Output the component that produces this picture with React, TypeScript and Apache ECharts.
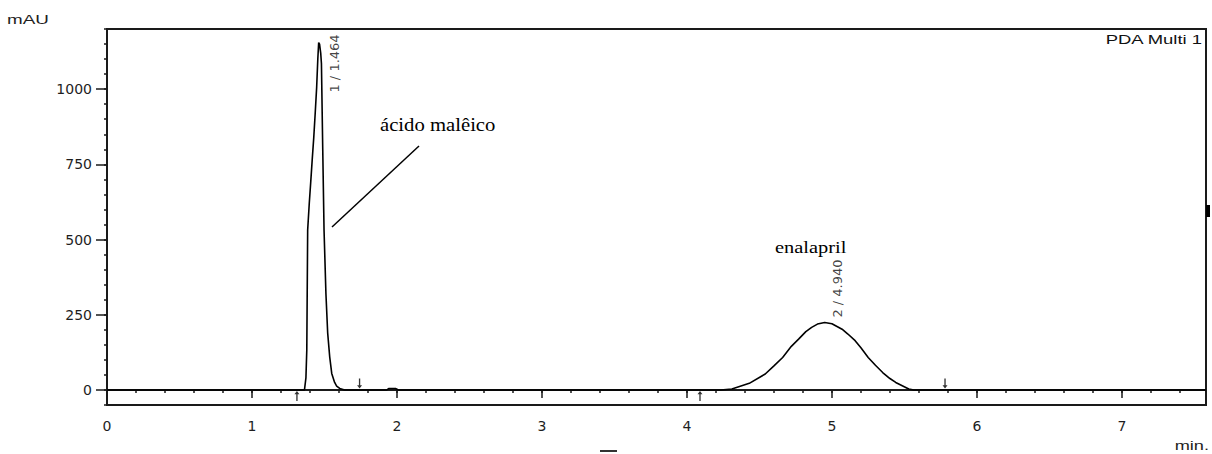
import React, { useEffect, useRef } from "react";
import * as echarts from "echarts";

// Chromatogram trace (time in min, absorbance in mAU)
const chromTime = [
  0, 1.3, 1.362, 1.372, 1.378, 1.384, 1.395, 1.405, 1.416, 1.426, 1.436, 1.446, 1.454, 1.46, 1.466,
  1.474, 1.479, 1.488, 1.497, 1.51, 1.522, 1.536, 1.55, 1.57, 1.584, 1.605, 1.639,
  1.93, 1.945, 1.99, 2.01,
  4.2, 4.233, 4.31, 4.43, 4.54, 4.6, 4.66, 4.72, 4.77, 4.82, 4.86, 4.9, 4.95, 5.0, 5.07, 5.11, 5.16,
  5.2, 5.25, 5.3, 5.35, 5.4, 5.44, 5.53, 5.565, 7.58,
];
const chromSignal = [
  0, 0, 0, 40, 133, 531, 620, 690, 770, 839, 920, 1006, 1100, 1155, 1150,
  1120, 1085, 800, 531, 320, 190, 110, 55, 25, 13, 5, 0,
  0, 5, 5, 0,
  0, 0, 3, 22, 53, 80, 108, 145, 169, 194, 208, 219, 224, 220, 202, 186, 164,
  140, 108, 82, 58, 38, 25, 3, 0, 0,
];

// Peak annotations
const peakTimes = [1.464, 4.94];
const peakHeights = [1155, 224];
const peakNames = ["1 / 1.464", "2 / 4.940"];

// Integration start / end markers (min)
const startMarks = [1.31, 4.09];
const endMarks = [1.742, 5.78];

// Tick labels
const xTickLabels = [0, 1, 2, 3, 4, 5, 6, 7];
const yTickLabels = [0, 250, 500, 750, 1000];

const AXIS_COLOR = "#1a1a1a";
const LABEL_FONT = "DejaVu Sans";
const LABEL_COLOR = "#1e1e1e";

export default function App() {
  const ref = useRef<HTMLDivElement>(null);

  useEffect(() => {
    if (!ref.current) return;
    const chart = echarts.init(ref.current, null, { renderer: "svg" });

    const lineData = chromTime.map((t, i) => [t, chromSignal[i]]);
    const labelOffsets = [
      [15, 50],
      [14, -5],
    ];

    const option: any = {
      animation: false,
      backgroundColor: "#fff",
      grid: {
        left: 107,
        right: 6,
        top: 29,
        bottom: 49,
        show: true,
        borderColor: AXIS_COLOR,
        borderWidth: 2,
        backgroundColor: "transparent",
      },
      xAxis: [
        {
          type: "value",
          min: 0,
          max: 7.58,
          interval: 0.2,
          axisLine: { show: true, lineStyle: { color: AXIS_COLOR, width: 2 } },
          axisTick: { show: true, length: 3, lineStyle: { color: AXIS_COLOR, width: 1.5 } },
          axisLabel: { show: false },
          splitLine: { show: false },
        },
        {
          type: "value",
          min: 0,
          max: 7.58,
          position: "bottom",
          axisLine: { show: false },
          axisTick: {
            show: true,
            length: 8,
            customValues: xTickLabels,
            lineStyle: { color: AXIS_COLOR, width: 1.5 },
          },
          axisLabel: {
            show: true,
            customValues: xTickLabels,
            formatter: (v: number) => String(v),
            fontFamily: LABEL_FONT,
            fontSize: 14,
            color: LABEL_COLOR,
            margin: 14,
          },
          splitLine: { show: false },
        },
      ],
      yAxis: [
        {
          type: "value",
          min: -50,
          max: 1200,
          interval: 50,
          axisLine: { show: true, lineStyle: { color: AXIS_COLOR, width: 2 } },
          axisTick: { show: true, length: 3, lineStyle: { color: AXIS_COLOR, width: 1.5 } },
          axisLabel: { show: false },
          splitLine: { show: false },
        },
        {
          type: "value",
          min: -50,
          max: 1200,
          position: "left",
          axisLine: { show: false },
          axisTick: {
            show: true,
            length: 11,
            customValues: yTickLabels,
            lineStyle: { color: AXIS_COLOR, width: 1.5 },
          },
          axisLabel: {
            show: true,
            customValues: yTickLabels,
            formatter: (v: number) => String(v),
            fontFamily: LABEL_FONT,
            fontSize: 14,
            color: LABEL_COLOR,
            margin: 15,
          },
          splitLine: { show: false },
        },
      ],
      series: [
        {
          type: "line",
          xAxisIndex: 0,
          yAxisIndex: 0,
          data: lineData,
          showSymbol: false,
          symbol: "none",
          lineStyle: { color: "#000", width: 1.6 },
          silent: true,
        },
        {
          type: "scatter",
          xAxisIndex: 0,
          yAxisIndex: 0,
          symbolSize: 0,
          silent: true,
          data: peakTimes.map((t, i) => ({
            value: [t, peakHeights[i]],
            name: peakNames[i],
            label: { position: labelOffsets[i] },
          })),
          label: {
            show: true,
            formatter: (p: any) => p.name,
            rotate: 90,
            align: "left",
            verticalAlign: "middle",
            fontFamily: LABEL_FONT,
            fontSize: 13,
            color: "#111",
          },
        },
        {
          type: "scatter",
          xAxisIndex: 0,
          yAxisIndex: 0,
          silent: true,
          symbol: "path://M3,0 L6,4 L3.8,4 L3.8,12 L2.2,12 L2.2,4 L0,4 Z",
          symbolSize: [5, 10],
          symbolOffset: [0, 6],
          itemStyle: { color: "#000" },
          data: startMarks.map((t) => [t, 0]),
        },
        {
          type: "scatter",
          xAxisIndex: 0,
          yAxisIndex: 0,
          silent: true,
          symbol: "path://M2.2,0 L3.8,0 L3.8,8 L6,8 L3,12 L0,8 L2.2,8 Z",
          symbolSize: [5, 10],
          symbolOffset: [0, -6.5],
          itemStyle: { color: "#000" },
          data: endMarks.map((t) => [t, 0]),
        },
      ],
      graphic: [
        {
          type: "text",
          x: 7,
          y: 19,
          scaleX: 1.45,
          style: {
            text: "mAU",
            font: '13px "Liberation Sans"',
            fill: LABEL_COLOR,
            textAlign: "left",
            textVerticalAlign: "middle",
          },
        },
        {
          type: "text",
          x: 1202,
          y: 40,
          scaleX: 1.42,
          style: {
            text: "PDA Multi 1",
            font: '13px "Liberation Sans"',
            fill: "#111",
            textAlign: "right",
            textVerticalAlign: "middle",
          },
        },
        {
          type: "text",
          x: 1209,
          y: 445,
          scaleX: 1.4,
          style: {
            text: "min.",
            font: '13px "Liberation Sans"',
            fill: LABEL_COLOR,
            textAlign: "right",
            textVerticalAlign: "middle",
          },
        },
        {
          type: "text",
          x: 380,
          y: 125,
          scaleX: 1.15,
          style: {
            text: "ácido malêico",
            font: '18px "Liberation Serif"',
            fill: "#000",
            textAlign: "left",
            textVerticalAlign: "middle",
          },
        },
        {
          type: "line",
          shape: { x1: 419, y1: 146, x2: 332, y2: 227 },
          style: { stroke: "#000", lineWidth: 1.5 },
        },
        {
          type: "text",
          x: 775,
          y: 247,
          scaleX: 1.2,
          style: {
            text: "enalapril",
            font: '17px "Liberation Serif"',
            fill: "#000",
            textAlign: "left",
            textVerticalAlign: "middle",
          },
        },
        {
          type: "rect",
          shape: { x: 1206, y: 205, width: 4, height: 12 },
          style: { fill: "#000" },
        },
        {
          type: "rect",
          shape: { x: 600, y: 450, width: 17, height: 2 },
          style: { fill: "#333" },
        },
      ],
    };

    chart.setOption(option);
    return () => chart.dispose();
  }, []);

  return (
    <div
      ref={ref}
      style={{ position: "fixed", left: 0, top: 0, width: 1212, height: 454, background: "#fff" }}
    />
  );
}
